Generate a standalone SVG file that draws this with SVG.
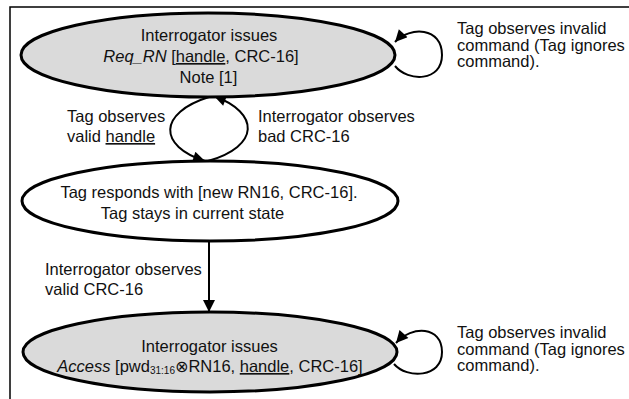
<svg xmlns="http://www.w3.org/2000/svg" width="629" height="399" viewBox="0 0 629 399">
<defs>
<style>
.frame{fill:none;stroke:#000;stroke-width:1.5}
.st{stroke:#000;stroke-width:3}
.grey{fill:#dadada}
.white{fill:#fff}
.t{font-family:"Liberation Sans",Arial,sans-serif;font-size:16.5px;fill:#111}
.m{text-anchor:middle}
.edge{fill:none;stroke:#000;stroke-width:2}
.u{text-decoration:underline}
</style>
<marker id="ah" viewBox="0 0 10 10" refX="10" refY="5" markerWidth="15" markerHeight="12" markerUnits="userSpaceOnUse" orient="auto">
<path d="M0,0 L10,5 L0,10 Z" fill="#000"/>
</marker>
</defs>
<rect width="629" height="399" fill="#fff"/>
<path class="frame" d="M10,399 L10,7 L629,7"/>

<g id="connectors">
<path class="edge" d="M209,97 C158,113 158,146 205,161" marker-end="url(#ah)"/>
<path class="edge" d="M208,161 C260,146 260,113 214,96" marker-end="url(#ah)"/>
<path class="edge" d="M209,242 L209,312" marker-end="url(#ah)"/>
<path class="edge" d="M395,66 C408,82 442,82 442,55 C442,27 410,26 395,42" marker-end="url(#ah)"/>
<path class="edge" d="M394,364 C407,379 442,378 442,352 C442,326 412,325 396,343" marker-end="url(#ah)"/>
<text class="t" x="67" y="122">Tag observes</text>
<text class="t" x="67" y="142">valid <tspan class="u">handle</tspan></text>
<text class="t" x="258" y="122">Interrogator observes</text>
<text class="t" x="258" y="142">bad CRC-16</text>
<text class="t" x="45" y="275">Interrogator observes</text>
<text class="t" x="45" y="295">valid CRC-16</text>
<text class="t" x="457" y="34">Tag observes invalid</text>
<text class="t" x="457" y="50.5">command (Tag ignores</text>
<text class="t" x="457" y="67">command).</text>
<text class="t" x="457" y="338">Tag observes invalid</text>
<text class="t" x="457" y="354.5">command (Tag ignores</text>
<text class="t" x="457" y="371">command).</text>
</g>

<g id="node-reqrn">
<ellipse class="st grey" cx="208" cy="55" rx="187" ry="42"/>
<text class="t m" x="209" y="41">Interrogator issues</text>
<text class="t m" x="201" y="62"><tspan font-style="italic">Req_RN</tspan> [<tspan class="u">handle</tspan>, CRC-16]</text>
<text class="t m" x="208.5" y="83">Note [1]</text>
</g>

<g id="node-respond">
<ellipse class="st white" cx="210" cy="201" rx="188" ry="40"/>
<text class="t m" x="209" y="198">Tag responds with [new RN16, CRC-16].</text>
<text class="t m" x="192.5" y="219">Tag stays in current state</text>
</g>

<g id="node-access">
<ellipse class="st grey" cx="210" cy="352" rx="187" ry="40"/>
<text class="t m" x="209.5" y="352">Interrogator issues</text>
<text class="t m" x="210" y="372"><tspan font-style="italic">Access</tspan> [pwd<tspan font-size="10px" dy="2">31:16</tspan><tspan dy="-2" font-family="'DejaVu Sans',sans-serif" font-size="16px">⊗</tspan>RN16, <tspan class="u">handle</tspan>, CRC-16]</text>
</g>
</svg>
